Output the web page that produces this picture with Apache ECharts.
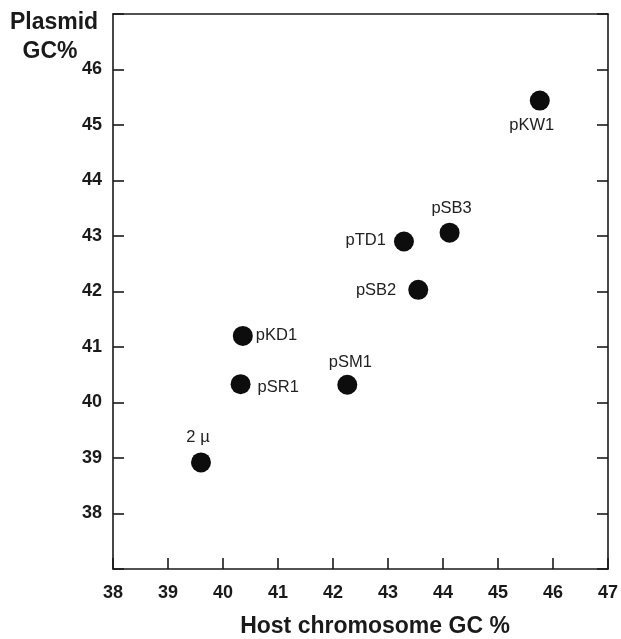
<!DOCTYPE html>
<html>
<head>
<meta charset="utf-8">
<script src="https://cdn.jsdelivr.net/npm/echarts@6/dist/echarts.min.js"></script>
<style>
html,body{margin:0;padding:0;background:#fff;}
#c{width:621px;height:639px;}
</style>
</head>
<body>
<div id="c"></div>
<script>
// Data
const plasmids = ['pKW1', 'pSB3', 'pTD1', 'pSB2', 'pKD1', 'pSR1', 'pSM1', '2 \u00b5'];
const hostGC   = [45.76, 44.12, 43.29, 43.55, 40.36, 40.32, 42.26, 39.60];
const plasmidGC= [45.44, 43.06, 42.90, 42.03, 41.20, 40.33, 40.32, 38.92];
const xTicks = [38, 39, 40, 41, 42, 43, 44, 45, 46, 47];
const yTicks = [38, 39, 40, 41, 42, 43, 44, 45, 46];

// label placement (style only)
const labelStyle = {
  'pKW1': {position: 'bottom', distance: 6, offset: [-8, 0]},
  'pSB3': {position: 'top', distance: 6, offset: [2, 0]},
  'pTD1': {position: 'left', distance: 8, offset: [0, -1]},
  'pSB2': {position: 'left', distance: 12, offset: [0, 1]},
  'pKD1': {position: 'right', distance: 3, offset: [0, 0]},
  'pSR1': {position: 'right', distance: 7, offset: [0, 3]},
  'pSM1': {position: 'top', distance: 4, offset: [3, 0]},
  '2 \u00b5': {position: 'top', distance: 6, offset: [-3, 0]}
};

const FONT = '"Liberation Sans", Arial, Helvetica, sans-serif';
const INK = '#1a1a1a';

const data = plasmids.map((n, i) => ({
  name: n,
  value: [hostGC[i], plasmidGC[i]],
  label: Object.assign({show: true}, labelStyle[n])
}));

const chart = echarts.init(document.getElementById('c'), null, {renderer: 'canvas'});
const axisLine = {show: true, lineStyle: {color: INK, width: 1.6}};
chart.setOption({
  animation: false,
  backgroundColor: '#fff',
  grid: {left: 113, right: 9, top: 14, bottom: 70, containLabel: false},
  xAxis: [{
    type: 'value', min: 38, max: 47, interval: 1, position: 'bottom',
    axisLine: axisLine,
    axisTick: {show: true, inside: true, length: 11, lineStyle: {color: INK, width: 1.6}},
    axisLabel: {color: INK, fontFamily: FONT, fontWeight: 'bold', fontSize: 18, margin: 15,
      showMinLabel: true, showMaxLabel: true,
      formatter: v => xTicks.includes(v) ? String(v) : ''},
    splitLine: {show: false}
  }, {
    type: 'value', min: 38, max: 47, interval: 1, position: 'top',
    axisLine: axisLine, axisTick: {show: false}, axisLabel: {show: false}, splitLine: {show: false}
  }],
  yAxis: [{
    type: 'value', min: 37, max: 47, interval: 1, position: 'left',
    axisLine: axisLine,
    axisTick: {show: true, inside: true, length: 11, lineStyle: {color: INK, width: 1.6}},
    axisLabel: {color: INK, fontFamily: FONT, fontWeight: 'bold', fontSize: 18, margin: 11,
      formatter: v => yTicks.includes(v) ? String(v) : ''},
    splitLine: {show: false}
  }, {
    type: 'value', min: 37, max: 47, interval: 1, position: 'right',
    axisLine: axisLine,
    axisTick: {show: true, inside: true, length: 11, lineStyle: {color: INK, width: 1.6}},
    axisLabel: {show: false}, splitLine: {show: false}
  }],
  graphic: [
    {type: 'text', x: 54, y: 23, style: {text: 'Plasmid', font: 'bold 23px ' + FONT, fill: INK, align: 'center', verticalAlign: 'middle'}},
    {type: 'text', x: 50, y: 52, style: {text: 'GC%', font: 'bold 23px ' + FONT, fill: INK, align: 'center', verticalAlign: 'middle'}},
    {type: 'text', x: 375, y: 627, style: {text: 'Host chromosome GC %', font: 'bold 23px ' + FONT, fill: INK, align: 'center', verticalAlign: 'middle'}}
  ],
  series: [{
    type: 'scatter',
    xAxisIndex: 0, yAxisIndex: 0,
    symbol: 'circle', symbolSize: 20,
    itemStyle: {color: '#0d0d0d', opacity: 1},
    label: {color: '#222', fontFamily: FONT, fontSize: 16.5, formatter: '{b}'},
    emphasis: {disabled: true},
    data: data
  }]
});
</script>
</body>
</html>
